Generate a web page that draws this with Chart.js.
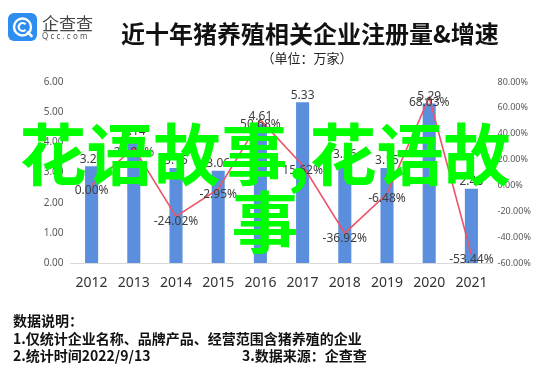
<!DOCTYPE html>
<html>
<head>
<meta charset="utf-8">
<script src="https://cdn.jsdelivr.net/npm/chart.js@4"></script>
<style>
    body { margin: 0; background: #fff; }
    #wrap { position: relative; width: 553px; height: 369px; overflow: hidden; font-family: "Noto Sans CJK SC", sans-serif; }
    #chart { position: absolute; left: 0; top: 0; }
    .txt { position: absolute; white-space: nowrap; }
    #title { left: 0; width: 620px; top: 15px; text-align: center; font-size: 24px; font-weight: 700; color: #111; }
    #unit { left: 0; width: 614px; top: 48px; text-align: center; font-size: 13px; color: #222; }
    #logo { position: absolute; left: 8px; top: 13px; width: 29px; height: 28px; background: #2d8ef0; border-radius: 6px; }
    #brand { left: 42px; top: 10px; font-size: 17px; color: #444; }
    #site { left: 42px; top: 30px; font-size: 8px; letter-spacing: 2.2px; color: #555; font-family: "Noto Sans", sans-serif; }
    .note { left: 13px; font-size: 14px; font-weight: 700; color: #111; }
    #mark { left: 0; width: 530px; top: 117px; text-align: center; white-space: normal; font-size: 67px; line-height: 68px; font-weight: 700; color: #00ff00; }
</style>
</head>
<body>
<div id="wrap">
    <canvas id="chart" width="553" height="369"></canvas>
    <div id="logo">
        <svg width="29" height="28" viewBox="0 0 29 28">
            <circle cx="14.5" cy="14" r="8.5" fill="none" stroke="#fff" stroke-width="2.4"/>
            <path d="M17.5 11.2 A4 4 0 1 0 17.5 16.8" fill="none" stroke="#fff" stroke-width="2.2"/>
            <path d="M20 19.5 L23.5 23" stroke="#fff" stroke-width="2.6" stroke-linecap="round"/>
        </svg>
    </div>
    <div class="txt" id="brand">企查查</div>
    <div class="txt" id="site">Qcc.com</div>
    <div class="txt" id="title">近十年猪养殖相关企业注册量&amp;增速</div>
    <div class="txt" id="unit">（单位：万家）</div>
    <div class="txt note" style="top:310px">数据说明：</div>
    <div class="txt note" style="top:328px">1.仅统计企业名称、品牌产品、经营范围含猪养殖的企业</div>
    <div class="txt note" style="top:345px">2.统计时间2022/9/13</div>
    <div class="txt note" style="top:345px; left:242px">3.数据来源：企查查</div>
    <div class="txt" id="mark">花语故事,花语故事</div>
</div>
<script>
// Data
const years = ['2012', '2013', '2014', '2015', '2016', '2017', '2018', '2019', '2020', '2021'];
const registrations = [3.21, 4.14, 3.15, 3.06, 4.61, 5.33, 3.36, 3.15, 5.29, 2.46];   // 万家
const growthRates = [0.00, 28.97, -24.02, -2.95, 50.68, 15.62, -36.92, -6.48, 68.03, -53.44]; // %
const leftTicks = [0, 1, 2, 3, 4, 5, 6];
const rightTicks = [-60, -40, -20, 0, 20, 40, 60, 80];

Chart.defaults.font.family = "'Noto Sans', 'Noto Sans CJK SC', sans-serif";

// Draws the value labels above bars and on the line
const valueLabels = {
    id: 'valueLabels',
    afterDatasetsDraw(chart) {
        const ctx = chart.ctx;
        ctx.save();
        ctx.font = '12px "Noto Sans", sans-serif';
        ctx.fillStyle = '#404040';
        ctx.textAlign = 'center';

        chart.getDatasetMeta(0).data.forEach(function (bar, i) {
            ctx.textBaseline = 'bottom';
            ctx.fillText(registrations[i].toFixed(2), bar.x, bar.y - 1);
        });

        chart.getDatasetMeta(1).data.forEach(function (pt, i) {
            ctx.textBaseline = 'middle';
            ctx.fillText(growthRates[i].toFixed(2) + '%', pt.x, pt.y + 5);
        });
        ctx.restore();
    }
};

const ctx = document.getElementById('chart').getContext('2d');
new Chart(ctx, {
    data: {
        labels: years,
        datasets: [{
            type: 'bar',
            label: '注册量',
            data: registrations,
            yAxisID: 'y',
            backgroundColor: '#5b8fde',
            categoryPercentage: 1,
            barPercentage: 0.31,
            order: 2
        }, {
            type: 'line',
            label: '增速',
            data: growthRates,
            yAxisID: 'y1',
            borderColor: '#ea5568',
            borderWidth: 1.6,
            pointRadius: 0,
            tension: 0,
            order: 1
        }]
    },
    options: {
        responsive: false,
        animation: false,
        layout: { padding: { top: 82, bottom: 0, left: 0, right: 0 } },
        plugins: {
            legend: { display: false },
            tooltip: { enabled: false }
        },
        scales: {
            x: {
                grid: { display: false, drawTicks: false },
                border: { color: '#d9d9d9', width: 1 },
                ticks: { color: '#333', font: { size: 14 }, padding: 12 },
                afterFit(scale) { scale.height = 106; }
            },
            y: {
                position: 'left',
                min: 0,
                max: 6,
                afterBuildTicks(scale) { scale.ticks = leftTicks.map(v => ({ value: v })); },
                grid: { display: false, drawTicks: false },
                border: { display: false },
                ticks: { color: '#595959', font: { size: 10 }, padding: 7, callback: v => v.toFixed(2) },
                afterFit(scale) { scale.width = 70.5; }
            },
            y1: {
                position: 'right',
                min: -60,
                max: 80,
                afterBuildTicks(scale) { scale.ticks = rightTicks.map(v => ({ value: v })); },
                grid: { display: false, drawTicks: false },
                border: { display: false },
                ticks: { color: '#595959', font: { size: 9 }, padding: 5, callback: v => v.toFixed(2) + '%' },
                afterFit(scale) { scale.width = 60.5; }
            }
        }
    },
    plugins: [valueLabels]
});
</script>
</body>
</html>
